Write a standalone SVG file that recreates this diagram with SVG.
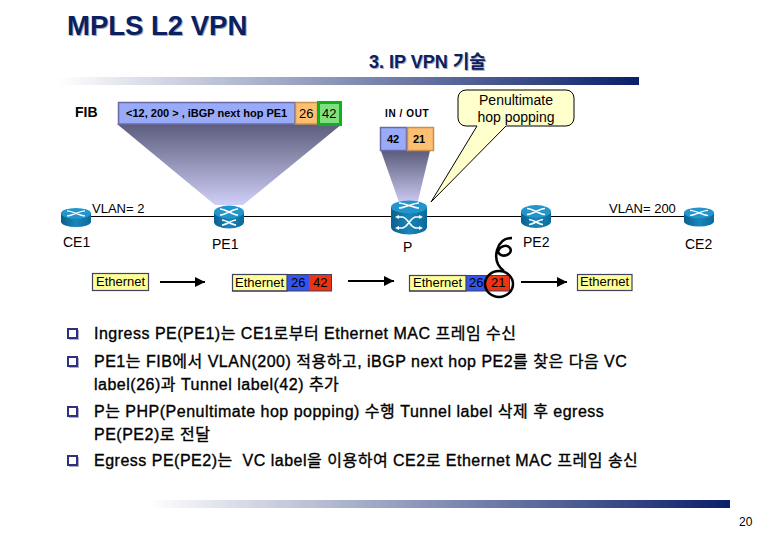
<svg xmlns="http://www.w3.org/2000/svg" width="780" height="540" viewBox="0 0 780 540">
<style>
text{font-family:"Liberation Sans","Noto Sans CJK KR",sans-serif;fill:#000}
.title{font-size:27.500px;font-weight:bold;fill:#0a2060}
.sub{font-size:18px;font-weight:bold;fill:#0a2060}
.shadow{fill:#a8a8b8}
.lab{font-size:14px}
.vlan{font-size:13px}
.eth{font-size:13px}
.body{font-size:16px;letter-spacing:.5px;stroke:#000;stroke-width:.35;white-space:pre}
.sb{fill:#fff;stroke:#303080;stroke-width:2}
.sbs{fill:#b0b0c0}
.blue{fill:#99aaf8;stroke:#6a6aa8;stroke-width:1.5}
.orange{fill:#fdc070;stroke:#c89050;stroke-width:1.5}
.yellow{fill:#ffff99;stroke:#404060;stroke-width:1.2}
.b26{fill:#3355ee}
.r42{fill:#ee3311}
.conn{stroke:#000;fill:none}
.wl{stroke:#fff;stroke-width:1.6;fill:none}
</style>
<defs>
<linearGradient id="bar"><stop offset="0" stop-color="#fff"/><stop offset="1" stop-color="#0a1f6a"/></linearGradient>
<linearGradient id="funnel" x1="0" y1="0" x2="0" y2="1"><stop offset="0" stop-color="#5c5c7c"/><stop offset="1" stop-color="#cfcff8"/></linearGradient>
<linearGradient id="side" x1="0" y1="0" x2="1" y2="0"><stop offset="0" stop-color="#0a5f8f"/><stop offset=".5" stop-color="#1a86b8"/><stop offset="1" stop-color="#0a6a9a"/></linearGradient>
<marker id="ah" markerWidth="6" markerHeight="6" refX="5" refY="3" orient="auto" markerUnits="strokeWidth"><path d="M0,.5L5,3L0,5.5Z" fill="#000"/></marker>
<g id="router">
<path d="M-15,-5V5A15,6.500 0 0 0 15,5V-5Z" fill="url(#side)"/>
<ellipse cx="0" cy="-5" rx="15" ry="6.500" fill="#2295cc"/>
<path class="wl" d="M-9,-8C-3,-8 3,-2 9,-2M9,-8C3,-8 -3,-2 -9,-2"/>
</g>
</defs>

<g id="header">
<text class="title shadow" x="68" y="36">MPLS L2 VPN</text>
<text class="title" x="67" y="35">MPLS L2 VPN</text>
<text class="sub shadow" x="370" y="69">3. IP VPN 기술</text>
<text class="sub" x="369" y="68">3. IP VPN 기술</text>
<rect x="58" y="77" width="581" height="8" fill="url(#bar)"/>
</g>

<g id="funnels">
<path d="M117,124H342L243,205H215Z" fill="url(#funnel)"/>
<path d="M381,151H430L417,205H400Z" fill="url(#funnel)"/>
</g>

<g id="fib">
<text x="75" y="117" font-size="14" font-weight="bold">FIB</text>
<rect class="blue" x="118.500" y="102.500" width="176.500" height="21.500"/>
<text x="126" y="117" font-size="11" font-weight="bold">&lt;12, 200 &gt; , iBGP next hop PE1</text>
<rect class="orange" x="295.500" y="102.500" width="22" height="21.500" stroke-width="2"/>
<text x="299" y="118" font-size="13">26</text>
<rect x="318.500" y="102.500" width="22" height="22" fill="#80e080" stroke="#10b020" stroke-width="3"/>
<text x="322" y="118" font-size="13">42</text>
</g>

<g id="inout">
<text x="385" y="117" font-size="10" font-weight="bold" letter-spacing=".6" fill="#333">IN / OUT</text>
<rect class="blue" x="380.500" y="127.500" width="26" height="23"/>
<text x="387" y="143" font-size="11" font-weight="bold">42</text>
<rect class="orange" x="407.500" y="127.500" width="26" height="23"/>
<text x="413" y="143" font-size="11" font-weight="bold">21</text>
</g>

<g id="callout">
<path d="M466,90H566A8,8 0 0 1 574,98V118A8,8 0 0 1 566,126H506L431,202L477,126H466A8,8 0 0 1 458,118V98A8,8 0 0 1 466,90Z" fill="#ffffcc" stroke="#000" stroke-width="1"/>
<text x="516" y="105" font-size="14" text-anchor="middle">Penultimate</text>
<text x="516" y="122" font-size="14" text-anchor="middle">hop popping</text>
</g>

<g id="connectors">
<line class="conn" x1="88" y1="216.500" x2="690" y2="216.500" stroke-width="1"/>
<line class="conn" x1="160" y1="282" x2="205" y2="282" stroke-width="2" marker-end="url(#ah)"/>
<line class="conn" x1="348" y1="281" x2="394" y2="281" stroke-width="2" marker-end="url(#ah)"/>
<line class="conn" x1="521" y1="282" x2="567" y2="282" stroke-width="2" marker-end="url(#ah)"/>
</g>

<g id="CE1"><use href="#router" transform="translate(76,217.500) scale(1,.83)"/><text class="lab" x="63" y="247">CE1</text></g>
<g id="PE1"><use href="#router" x="229" y="217"/><path class="wl" d="M222,220C226,220 232,225 236,225M236,220C232,220 226,225 222,225" stroke-width="1"/><text class="lab" x="212" y="249">PE1</text></g>
<g id="P">
<path d="M391,207V227A18,7.500 0 0 0 427,227V207Z" fill="url(#side)"/>
<ellipse cx="409" cy="207" rx="18" ry="6.500" fill="#2295cc"/>
<path class="wl" d="M399,203C405,203 413,208 419,208M419,203C413,203 405,208 399,208"/>
<path class="wl" d="M397,217H402C408,217 410,228 416,228H421M397,228H402C408,228 410,217 416,217H421"/>
<path d="M395,217l4,-2v4ZM395,228l4,-2v4ZM423,217l-4,-2v4ZM423,228l-4,-2v4Z" fill="#fff"/>
<text class="lab" x="403" y="252">P</text>
</g>
<g id="PE2"><use href="#router" x="536" y="216.500"/><path class="wl" d="M529,219.500C533,219.500 539,224.500 543,224.500M543,219.500C539,219.500 533,224.500 529,224.500" stroke-width="1"/><text class="lab" x="523" y="247">PE2</text></g>
<g id="CE2"><use href="#router" transform="translate(699,217) scale(1,.83)"/><text class="lab" x="685" y="249">CE2</text></g>

<text id="vlan2" class="vlan" x="92" y="213">VLAN= 2</text>
<text id="vlan200" class="vlan" x="609" y="213">VLAN= 200</text>

<g id="frame1"><rect class="yellow" x="92.500" y="273.500" width="56" height="17"/><text class="eth" x="96" y="286">Ethernet</text></g>
<g id="frame2">
<rect class="b26" x="287" y="274" width="22" height="17"/><rect class="r42" x="309" y="274" width="23" height="17"/>
<rect class="yellow" x="232.500" y="274.500" width="54.500" height="16.500"/>
<rect x="232.500" y="274.500" width="99" height="16.500" fill="none" stroke="#404060"/>
<text class="eth" x="235" y="287">Ethernet</text><text class="eth" x="291" y="287">26</text><text class="eth" x="313" y="287">42</text>
</g>
<g id="frame3">
<rect class="b26" x="466" y="275" width="20" height="16"/><rect class="r42" x="486" y="275" width="24" height="16"/>
<rect class="yellow" x="409.500" y="275.500" width="56.500" height="15.500"/>
<rect x="409.500" y="275.500" width="100" height="15.500" fill="none" stroke="#404060"/>
<text class="eth" x="413" y="287">Ethernet</text><text class="eth" x="469" y="287">26</text><text class="eth" x="491" y="287">21</text>
<ellipse cx="499" cy="284" rx="14" ry="13" fill="none" stroke="#000" stroke-width="2.500"/>
<path d="M512,238C504,238 499,243 497,250C495,258 497,266 504,271M498,251C500,246 507,244 510,248C513,253 506,257 501,255C499,254 498,253 498,251" fill="none" stroke="#000" stroke-width="2.500"/>
</g>
<g id="frame4"><rect class="yellow" x="577.500" y="274.500" width="54.500" height="16"/><text class="eth" x="580" y="286">Ethernet</text></g>

<g id="bullets">
<rect class="sbs" x="69" y="330" width="10" height="10"/><rect class="sb" x="68" y="329" width="9" height="9"/>
<text class="body" x="94" y="339">Ingress PE(PE1)는 CE1로부터 Ethernet MAC 프레임 수신</text>
<rect class="sbs" x="69" y="358" width="10" height="10"/><rect class="sb" x="68" y="357" width="9" height="9"/>
<text class="body" x="94" y="367">PE1는 FIB에서 VLAN(200) 적용하고, iBGP next hop PE2를 찾은 다음 VC</text>
<text class="body" x="94" y="390">label(26)과 Tunnel label(42) 추가</text>
<rect class="sbs" x="69" y="408" width="10" height="10"/><rect class="sb" x="68" y="407" width="9" height="9"/>
<text class="body" x="94" y="417">P는 PHP(Penultimate hop popping) 수행 Tunnel label 삭제 후 egress</text>
<text class="body" x="94" y="440">PE(PE2)로 전달</text>
<rect class="sbs" x="69" y="457" width="10" height="10"/><rect class="sb" x="68" y="456" width="9" height="9"/>
<text class="body" x="94" y="466">Egress PE(PE2)는  VC label을 이용하여 CE2로 Ethernet MAC 프레임 송신</text>
</g>

<g id="footer">
<rect x="148" y="500" width="582" height="8" fill="url(#bar)"/>
<text x="739" y="526" font-size="12">20</text>
</g>
</svg>
